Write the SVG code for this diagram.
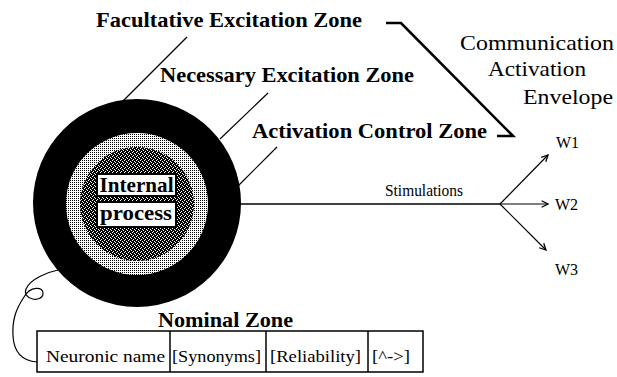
<svg xmlns="http://www.w3.org/2000/svg" width="617" height="377" viewBox="0 0 617 377" font-family="'Liberation Serif', 'DejaVu Serif', 'Times New Roman', serif">
<style>
.lbl{font-weight:bold;font-size:22px;fill:#000}
.reg{font-size:21px;fill:#000}
.sm{font-size:16px;fill:#000}
.thin{fill:none;stroke:#000;stroke-width:1.2}
.thick{fill:none;stroke:#000;stroke-width:2.6;stroke-linejoin:miter}
</style>
<defs>
<pattern id="light" width="2" height="2" patternUnits="userSpaceOnUse">
<rect width="2" height="2" fill="#fff"/><rect width="1" height="1" fill="#000"/>
</pattern>
<pattern id="dark" width="4" height="4" patternUnits="userSpaceOnUse">
<rect width="4" height="4" fill="#000"/>
<rect x="0" y="0" width="1" height="1" fill="#fff"/>
<rect x="2" y="1" width="1" height="1" fill="#fff"/>
<rect x="1" y="3" width="1" height="1" fill="#fff"/>
<rect x="3" y="2" width="1" height="1" fill="#fff"/>
</pattern>
<marker id="arr" viewBox="0 0 10 10" refX="9" refY="5" markerWidth="8" markerHeight="8" markerUnits="userSpaceOnUse" orient="auto">
<path d="M1,1 L9,5 L1,9" fill="none" stroke="#000" stroke-width="1.6"/>
</marker>
</defs>
<rect width="617" height="377" fill="#fff"/>

<g id="neuron">
<circle cx="137" cy="203" r="104" fill="#000"/>
<circle cx="137" cy="204" r="71" fill="url(#light)"/>
<circle cx="137" cy="204" r="57" fill="url(#dark)"/>
<rect x="97" y="174" width="79" height="22" fill="#fff" stroke="#000" stroke-width="2"/>
<rect x="97" y="202" width="79" height="25" fill="#fff" stroke="#000" stroke-width="2"/>
<text class="lbl" x="99.5" y="192" font-size="20" textLength="74" lengthAdjust="spacingAndGlyphs">Internal</text>
<text class="lbl" x="100" y="220" font-size="21" textLength="72" lengthAdjust="spacingAndGlyphs">process</text>
</g>

<g id="labels">
<text class="lbl" x="96" y="27" textLength="266" lengthAdjust="spacingAndGlyphs">Facultative Excitation Zone</text>
<text class="lbl" x="160" y="82" textLength="254" lengthAdjust="spacingAndGlyphs">Necessary Excitation Zone</text>
<text class="lbl" x="252" y="138" textLength="235" lengthAdjust="spacingAndGlyphs">Activation Control Zone</text>
<text class="reg" x="537" y="50" text-anchor="middle" textLength="154" lengthAdjust="spacingAndGlyphs">Communication</text>
<text class="reg" x="537" y="76" text-anchor="middle" textLength="98" lengthAdjust="spacingAndGlyphs">Activation</text>
<text class="reg" x="523" y="104" textLength="90" lengthAdjust="spacingAndGlyphs">Envelope</text>
<text class="sm" x="385" y="196" textLength="78" lengthAdjust="spacingAndGlyphs">Stimulations</text>
<text class="sm" x="556" y="148" font-size="15">W1</text>
<text class="sm" x="555" y="210" font-size="15">W2</text>
<text class="sm" x="555" y="275" font-size="15">W3</text>
</g>

<g id="nominal">
<text class="lbl" x="158" y="327" font-size="21" textLength="135" lengthAdjust="spacingAndGlyphs">Nominal Zone</text>
<rect x="37" y="331" width="386" height="41" fill="#fff" stroke="#000" stroke-width="1.5"/>
<line x1="170" y1="331" x2="170" y2="372" stroke="#000" stroke-width="1.5"/>
<line x1="266" y1="331" x2="266" y2="372" stroke="#000" stroke-width="1.5"/>
<line x1="368" y1="331" x2="368" y2="372" stroke="#000" stroke-width="1.5"/>
<text class="sm" x="46" y="362" textLength="119" lengthAdjust="spacingAndGlyphs">Neuronic name</text>
<text class="sm" x="172" y="362" textLength="89" lengthAdjust="spacingAndGlyphs">[Synonyms]</text>
<text class="sm" x="270" y="362" textLength="91" lengthAdjust="spacingAndGlyphs">[Reliability]</text>
<text class="sm" x="372" y="362" textLength="38" lengthAdjust="spacingAndGlyphs">[^-&gt;]</text>
</g>

<g id="connectors">
<line class="thin" x1="187" y1="37" x2="122" y2="102"/>
<line class="thin" x1="268" y1="93" x2="220" y2="139"/>
<line class="thin" x1="277" y1="147" x2="238" y2="186"/>
<path class="thick" d="M386,23 L401,23 L513,136 L497,136"/>
<line x1="240" y1="204" x2="500" y2="204" stroke="#000" stroke-width="1.6"/>
<line class="thin" x1="500" y1="204" x2="548" y2="155" stroke-width="1.4" marker-end="url(#arr)"/>
<line class="thin" x1="500" y1="204" x2="548" y2="204" stroke-width="1.4" marker-end="url(#arr)"/>
<line class="thin" x1="500" y1="204" x2="546" y2="250" stroke-width="1.4" marker-end="url(#arr)"/>
<path class="thin" d="M58,270 C48,272 30,279 26,289 C22,300 42,303 43,294 C44,286 30,286 24,297 C16,309 12,320 13,336 C14,352 22,361 37,362"/>
</g>
</svg>
